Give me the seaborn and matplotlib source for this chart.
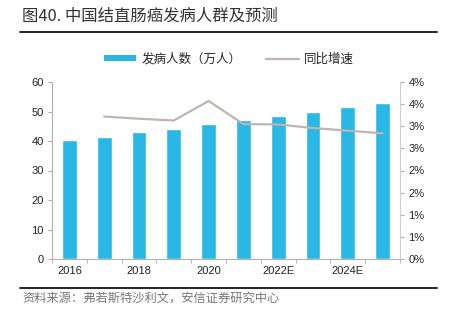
import numpy as np
import pandas as pd
import matplotlib
matplotlib.use("Agg")
import matplotlib.pyplot as plt
import seaborn as sns
from matplotlib.patches import Patch
from matplotlib.lines import Line2D

years = ["2016", "2017", "2018", "2019", "2020", "2021", "2022E", "2023E", "2024E", "2025E"]
cases = [40.3, 41.4, 42.9, 44.1, 45.8, 47.2, 48.6, 49.9, 51.4, 52.9]
growth_years = years[1:]
growth = [3.22, 3.17, 3.13, 3.57, 3.05, 3.04, 2.96, 2.90, 2.84]
xtick_labels = ["2016", "", "2018", "", "2020", "", "2022E", "", "2024E", ""]
left_ticks = [0, 10, 20, 30, 40, 50, 60]
right_ticks = [0, 0.5, 1.0, 1.5, 2.0, 2.5, 3.0, 3.5, 4.0]
right_labels = ["0%", "1%", "1%", "2%", "2%", "3%", "3%", "4%", "4%"]

title = "图40. 中国结直肠癌发病人群及预测"
source = "资料来源：弗若斯特沙利文，安信证券研究中心"
bar_label = "发病人数（万人）"
line_label = "同比增速"

bar_color = "#29B7E6"
line_color = "#BDB5B3"
axis_color = "#B0B0B0"

sns.set_style("white")
plt.rcParams['font.family'] = ['Liberation Sans', 'Noto Sans CJK SC', 'DejaVu Sans']

fig = plt.figure(figsize=(4.49, 3.27), dpi=100)
ax = fig.add_axes([52/449, 1-259/327, (400-52)/449, (259-82)/327])

df = pd.DataFrame({"year": years, "cases": cases})
sns.barplot(data=df, x="year", y="cases", color=bar_color, width=0.42,
            saturation=1, ax=ax)
ax.set_xlim(-0.5, len(years) - 0.5)
ax.set_ylim(0, 60)
ax.set_yticks(left_ticks)
ax.set_xticks(range(len(years)))
ax.set_xticklabels(xtick_labels)
ax.set_xticks(np.arange(-0.5, len(years), 1.0), minor=True)
ax.set_xlabel("")
ax.set_ylabel("")
ax.tick_params(axis="x", which="major", length=0, pad=5, labelsize=8, colors="#222222")
ax.tick_params(axis="x", which="minor", length=3, direction="out", color=axis_color, bottom=True)
ax.tick_params(axis="y", length=3, direction="out", color=axis_color, left=True, labelsize=8, colors="#222222", pad=3)
ax.tick_params(axis="y", color=axis_color)
for s in ["top", "right"]:
    ax.spines[s].set_visible(False)
for s in ["left", "bottom"]:
    ax.spines[s].set_color(axis_color)
    ax.spines[s].set_linewidth(0.8)

ax2 = ax.twinx()
gdf = pd.DataFrame({"pos": np.arange(1, len(years)), "growth": growth})
sns.lineplot(data=gdf, x="pos", y="growth", color=line_color, linewidth=1.6, ax=ax2)
ax2.set_ylim(0, 4)
ax2.set_yticks(right_ticks)
ax2.set_yticklabels(right_labels)
ax2.set_ylabel("")
ax2.set_xlim(-0.5, len(years) - 0.5)
ax2.tick_params(axis="y", length=3, direction="out", color=axis_color, right=True, labelsize=8, colors="#222222", pad=3)
ax2.tick_params(axis="y", color=axis_color)
for s in ["top", "left", "bottom"]:
    ax2.spines[s].set_visible(False)
ax2.spines["right"].set_color("#D0D0D0")
ax2.spines["right"].set_linewidth(0.8)

handles = [Patch(facecolor=bar_color, edgecolor="none", label=bar_label),
           Line2D([0], [0], color=line_color, linewidth=1.6, label=line_label)]
fig.legend(handles=handles, loc="center", bbox_to_anchor=(0.51, 1-59/327), ncol=2,
           frameon=False, handlelength=2.6, handleheight=0.45,
           columnspacing=2.0, handletextpad=0.4,
           prop={"family": ["Noto Sans CJK SC", "DejaVu Sans"], "size": 9})

fig.text(22/449, 1-16/327, title, fontsize=11.8, color="#333333", va="center", ha="left",
         family=["Noto Sans CJK SC", "DejaVu Sans"])
fig.add_artist(Line2D([20/449, 437/449], [1-32/327, 1-32/327], color="#111111", linewidth=1.3,
                      transform=fig.transFigure))
fig.add_artist(Line2D([20/449, 437/449], [1-288/327, 1-288/327], color="#111111", linewidth=1.3,
                      transform=fig.transFigure))
fig.text(22/449, 1-298/327, source, fontsize=8.8, color="#777777", va="center", ha="left",
         style="italic", family=["Noto Sans CJK SC", "DejaVu Sans"])

fig.savefig("out.png", dpi=100)
